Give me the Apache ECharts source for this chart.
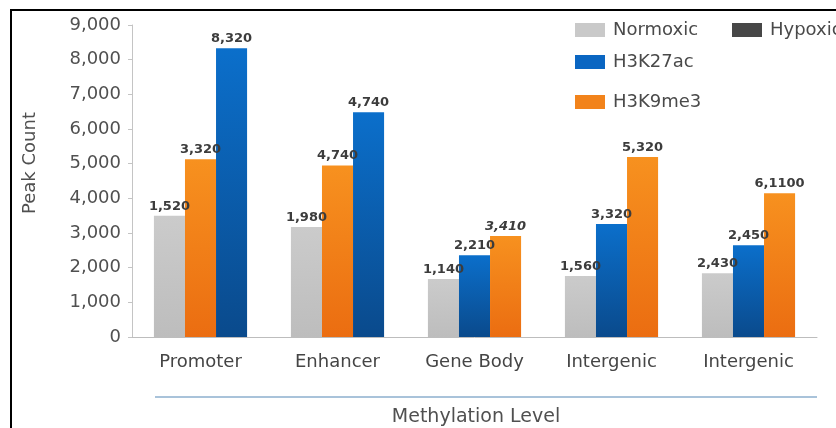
<!DOCTYPE html>
<html>
<head>
<meta charset="utf-8">
<script src="https://cdn.jsdelivr.net/npm/echarts@6/dist/echarts.min.js"></script>
<style>html,body{margin:0;padding:0;background:#fff;}#c{width:836px;height:428px;}</style>
</head>
<body>
<div id="c"></div>
<script>
// ---- data ----
const categories = ['Promoter', 'Enhancer', 'Gene Body', 'Intergenic', 'Intergenic'];
const normoxic = [3500, 3170, 1670, 1760, 1840];
const h3k27ac = [8330, 6480, 2360, 3260, 2650];
const h3k9me3 = [5130, 4950, 2910, 5190, 4150];
const normoxicLabels = ['1,520', '1,980', '1,140', '1,560', '2,430'];
const h3k27acLabels = ['8,320', '4,740', '2,210', '3,320', '2,450'];
const h3k9me3Labels = ['3,320', '4,740', '3,410', '5,320', '6,1100'];
// bar slot within each group (2 = middle, 3 = right)
const h3k27acSlot = [3, 3, 2, 2, 2];
const h3k9me3Slot = [2, 2, 3, 3, 3];
const yTicks = [0, 1000, 2000, 3000, 4000, 5000, 6000, 7000, 8000, 9000];

const FONT = '"DejaVu Sans", sans-serif';
function grad(top, bottom) {
  return new echarts.graphic.LinearGradient(0, 0, 0, 1, [
    { offset: 0, color: top }, { offset: 1, color: bottom }
  ]);
}
const colGray = grad('#cbcbcb', '#bdbdbd');
const colBlue = grad('#0b6fcb', '#0a4a8c');
const colOrange = grad('#f7911f', '#eb6d11');

function labelOpt(texts) {
  return {
    show: true, position: 'top', distance: 3,
    fontFamily: FONT, fontSize: 13, fontWeight: 'bold', color: '#3c3c3c',
    formatter: p => texts[p.dataIndex],
    rich: {}
  };
}
function pick(vals, slots, s) {
  return vals.map((v, i) => slots[i] === s ? v : '-');
}
function mkBar(name, data, color, stack, texts) {
  return {
    name: name, type: 'bar', stack: stack, data: data,
    itemStyle: { color: color },
    label: labelOpt(texts),
    emphasis: { disabled: true }
  };
}

const series = [
  mkBar('Normoxic', normoxic, colGray, 's1', normoxicLabels),
  mkBar('H3K9me3', pick(h3k9me3, h3k9me3Slot, 2), colOrange, 's2', h3k9me3Labels),
  mkBar('H3K27ac', pick(h3k27ac, h3k27acSlot, 2), colBlue, 's2', h3k27acLabels),
  mkBar('H3K27ac', pick(h3k27ac, h3k27acSlot, 3), colBlue, 's3', h3k27acLabels),
  mkBar('H3K9me3', pick(h3k9me3, h3k9me3Slot, 3), colOrange, 's3', h3k9me3Labels),
  { name: 'Hypoxic', type: 'bar', stack: 's3', data: [], itemStyle: { color: '#484848' } }
];
// italic label for 3,410
series[4].label.formatter = p => (h3k9me3Labels[p.dataIndex] === '3,410' ? '{i|3,410}' : h3k9me3Labels[p.dataIndex]);
series[4].label.rich = { i: { fontStyle: 'italic', fontWeight: 'bold', fontSize: 13, fontFamily: FONT, color: '#3c3c3c' } };

function leg(name, left, top, color) {
  return {
    data: [{ name: name, itemStyle: { color: color } }],
    left: left, top: top, itemWidth: 30, itemHeight: 14, itemGap: 0,
    selectedMode: false,
    textStyle: { fontFamily: FONT, fontSize: 18, color: '#4a4a4a', padding: [0, 0, 0, 3] },
    icon: 'rect'
  };
}

const chart = echarts.init(document.getElementById('c'), null, { renderer: 'canvas' });
chart.setOption({
  animation: false,
  backgroundColor: '#ffffff',
  grid: { left: 132, right: 19, top: 25, bottom: 91, containLabel: false },
  legend: [
    leg('Normoxic', 570, 16, '#c9c9c9'),
    leg('Hypoxic', 727, 16, '#474747'),
    leg('H3K27ac', 570, 48, '#0a66c2'),
    leg('H3K9me3', 570, 88, '#f2831b')
  ],
  xAxis: {
    type: 'category', data: categories,
    axisLine: { show: true, lineStyle: { color: '#bdbdbd', width: 1 } },
    axisTick: { show: false },
    axisLabel: { fontFamily: FONT, fontSize: 18, color: '#454545', margin: 16 }
  },
  yAxis: {
    type: 'value', min: yTicks[0], max: yTicks[yTicks.length - 1], interval: 1000,
    axisLine: { show: true, lineStyle: { color: '#c4c4c4', width: 1 } },
    axisTick: { show: true, length: 4, lineStyle: { color: '#c4c4c4' } },
    splitLine: { show: false },
    axisLabel: {
      fontFamily: FONT, fontSize: 18, color: '#505050', margin: 11,
      formatter: v => v.toLocaleString('en-US')
    }
  },
  series: series.map(s => Object.assign(s, { barGap: '0%', barCategoryGap: '32%' })),
  graphic: [
    { type: 'rect', shape: { x: 11, y: 10, width: 900, height: 600 },
      style: { fill: 'none', stroke: '#000', lineWidth: 2 }, silent: true },
    { type: 'line', shape: { x1: 155, y1: 397, x2: 817, y2: 397 },
      style: { stroke: '#a9c3da', lineWidth: 2 }, silent: true },
    { type: 'text', x: 476, y: 417,
      style: { text: 'Methylation Level', fontFamily: FONT, fontSize: 19, fill: '#505050', align: 'center', verticalAlign: 'middle' } },
    { type: 'text', x: 30, y: 163, rotation: Math.PI / 2,
      style: { text: 'Peak Count', fontFamily: FONT, fontSize: 18, fill: '#505050', align: 'center', verticalAlign: 'middle' } }
  ]
});
</script>
</body>
</html>
